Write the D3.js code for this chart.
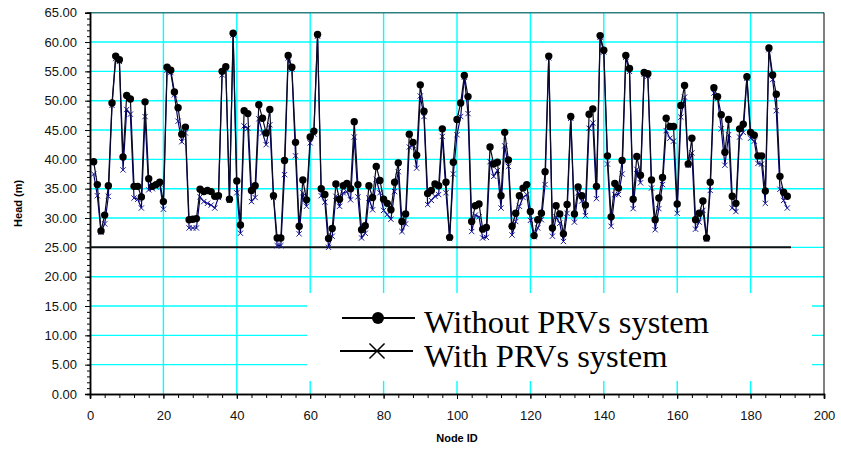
<!DOCTYPE html>
<html>
    <head>
        <meta charset="utf-8">
        <title>Head per node</title>
        <script type="text/javascript" src="https://cdn.jsdelivr.net/npm/d3@7/dist/d3.min.js"></script>
		<style>
		body {margin: 0; background: #fff;}
		svg {display: block;}
		.tick text {font-family: "Liberation Sans", Arial, sans-serif; font-size: 13px; fill: #111;}
		</style>
    </head>
    <body>
		<svg width="841" height="452"></svg>

        <script type="text/javascript">
		/// donnees (noeuds 1 a 190)
		var nodes = d3.range(1, 191);
		var sansPRV = [
			39.6, 35.7, 27.8, 30.5, 35.5, 49.6, 57.6, 57.0, 40.4, 50.9,
			50.3, 35.4, 35.4, 33.6, 49.8, 36.7, 35.4, 35.7, 36.1, 32.8,
			55.7, 55.2, 51.5, 48.8, 44.3, 45.5, 29.7, 29.8, 29.9, 34.9,
			34.5, 34.7, 34.5, 33.7, 33.8, 55.0, 55.8, 33.2, 61.5, 36.3,
			28.8, 48.3, 47.8, 34.7, 35.5, 49.3, 47.0, 44.5, 48.5, 33.8,
			26.6, 26.6, 39.8, 57.7, 55.7, 42.9, 28.6, 36.5, 33.1, 43.8,
			44.8, 61.3, 35.0, 34.0, 26.5, 28.2, 35.8, 33.2, 35.5, 35.9,
			35.0, 46.4, 35.7, 28.0, 28.7, 35.5, 33.5, 38.8, 36.4, 33.2,
			32.5, 31.4, 36.1, 39.4, 29.4, 30.7, 44.3, 42.9, 40.7, 52.7,
			48.2, 34.2, 34.7, 35.8, 35.5, 45.2, 36.1, 26.7, 39.5, 46.8,
			49.6, 54.3, 50.7, 29.4, 32.1, 32.4, 28.1, 28.4, 42.1, 39.2,
			39.5, 33.8, 44.6, 39.9, 28.6, 30.8, 33.8, 35.1, 35.7, 31.1,
			27.0, 29.7, 30.8, 37.9, 57.6, 28.3, 32.1, 30.7, 27.3, 32.3,
			47.3, 30.7, 35.3, 33.8, 32.2, 47.7, 48.6, 35.4, 61.1, 58.6,
			40.6, 30.2, 35.9, 35.1, 39.8, 57.7, 55.5, 33.2, 40.5, 37.3,
			54.8, 54.6, 36.5, 29.7, 33.4, 36.9, 47.0, 45.6, 45.6, 32.4,
			49.2, 52.6, 39.2, 43.6, 29.7, 30.8, 32.9, 26.6, 36.1, 52.2,
			50.7, 47.6, 41.2, 46.8, 33.7, 32.5, 45.2, 46.0, 54.1, 44.6,
			44.1, 40.6, 40.6, 34.6, 59.0, 54.4, 51.1, 37.1, 34.4, 33.7
		];
		var avecPRV = [
			37.5, 33.8, 27.6, 29.0, 33.7, 49.2, 57.2, 56.7, 38.2, 48.5,
			47.7, 33.4, 33.2, 31.7, 47.3, 34.8, 35.0, 35.3, 35.8, 31.5,
			55.2, 54.8, 51.0, 46.5, 43.0, 44.5, 28.3, 28.3, 28.3, 33.6,
			32.8, 32.5, 32.2, 31.7, 33.5, 54.4, 55.5, 33.0, 61.2, 34.3,
			27.4, 45.7, 45.3, 32.8, 33.5, 46.9, 44.5, 42.5, 45.9, 33.5,
			25.3, 25.3, 37.4, 57.3, 55.4, 40.6, 27.3, 34.3, 32.0, 42.8,
			44.3, 61.0, 33.8, 32.7, 25.0, 26.9, 33.7, 32.0, 34.3, 34.5,
			33.1, 43.8, 33.6, 26.6, 27.4, 33.4, 31.4, 36.6, 34.3, 31.3,
			30.6, 29.8, 34.5, 37.9, 27.7, 29.0, 42.1, 42.4, 38.5, 50.8,
			47.3, 32.3, 33.0, 33.7, 34.0, 43.9, 34.3, 26.5, 37.5, 44.2,
			47.3, 54.0, 47.8, 27.7, 30.5, 30.2, 26.6, 26.7, 39.6, 37.1,
			38.1, 31.7, 42.3, 38.8, 27.1, 29.4, 32.0, 33.5, 34.0, 29.6,
			26.8, 28.3, 29.7, 35.7, 57.3, 26.9, 30.2, 29.1, 26.0, 30.8,
			47.0, 29.3, 34.3, 32.9, 30.4, 45.3, 46.2, 33.3, 60.8, 58.3,
			39.2, 28.6, 34.0, 34.0, 37.5, 57.4, 55.0, 31.6, 38.3, 36.0,
			54.5, 54.2, 35.1, 28.0, 31.6, 35.7, 44.9, 43.6, 43.1, 30.8,
			47.2, 50.6, 39.0, 41.1, 28.1, 29.3, 31.3, 26.4, 34.7, 51.3,
			50.4, 45.2, 39.0, 44.2, 31.7, 31.1, 43.8, 44.6, 53.8, 43.6,
			43.1, 39.3, 39.2, 32.5, 58.7, 53.6, 48.3, 34.9, 33.0, 31.7
		];
		/// ligne de pression minimale
		var minX = [0, 191];
		var minY = [25, 25];

		var xTicks = [0, 20, 40, 60, 80, 100, 120, 140, 160, 180, 200];
		var yTicks = [0, 5, 10, 15, 20, 25, 30, 35, 40, 45, 50, 55, 60, 65];
		var legendLabels = ["Without PRVs system", "With PRVs system"];

		var svg = d3.select("svg");
		var x = d3.scaleLinear().domain([0, 200]).range([90, 824]);
		var y = d3.scaleLinear().domain([0, 65]).range([394, 12.7]);

		/// grille
		var grid = svg.append("g");
		grid.selectAll(".gx")
			.data(xTicks.slice(1, -1))
			.enter()
			.append("line")
				.attr("x1", function(d) { return x(d) })
				.attr("x2", function(d) { return x(d) })
				.attr("y1", y(0))
				.attr("y2", y(65))
				.attr("stroke", "#00ffff")
				.attr("stroke-width", 1.4)
		grid.selectAll(".gy")
			.data(yTicks.slice(1, -1))
			.enter()
			.append("line")
				.attr("x1", x(0))
				.attr("x2", x(200))
				.attr("y1", function(d) { return y(d) })
				.attr("y2", function(d) { return y(d) })
				.attr("stroke", "#00ffff")
				.attr("stroke-width", 1.4)

		/// cadre
		svg.append("line")
			.attr("x1", x(0)).attr("x2", x(200))
			.attr("y1", y(65)).attr("y2", y(65))
			.attr("stroke", "#2e8080").attr("stroke-width", 1.5)
		svg.append("line")
			.attr("x1", x(200)).attr("x2", x(200))
			.attr("y1", y(0)).attr("y2", y(65))
			.attr("stroke", "#000").attr("stroke-width", 1)

		/// axes
		svg.append("g")
			.attr("transform", "translate(0," + y(0) + ")")
			.call(d3.axisBottom(x).tickValues(d3.range(0, 201, 4)).tickSize(4).tickFormat(""))
		svg.append("g")
			.attr("transform", "translate(0," + y(0) + ")")
			.call(d3.axisBottom(x).tickValues(xTicks).tickSize(5).tickPadding(12).tickFormat(d3.format("d")))
		svg.append("g")
			.attr("transform", "translate(" + x(0) + ",0)")
			.call(d3.axisLeft(y).tickValues(d3.range(0, 66, 1)).tickSize(3).tickFormat(""))
		svg.append("g")
			.attr("transform", "translate(" + x(0) + ",0)")
			.call(d3.axisLeft(y).tickValues(yTicks).tickSize(5).tickPadding(8).tickFormat(d3.format(".2f")))
		svg.selectAll(".domain").attr("stroke-width", 1.5)

		svg.append("text")
			.attr("transform", "translate(22," + y(32.5) + ") rotate(-90)")
			.attr("text-anchor", "middle")
			.style("font-family", "Liberation Sans, Arial, sans-serif")
			.style("font-size", "11px")
			.style("font-weight", "bold")
			.text("Head (m)")
		svg.append("text")
			.attr("x", x(100))
			.attr("y", 442)
			.attr("text-anchor", "middle")
			.style("font-family", "Liberation Sans, Arial, sans-serif")
			.style("font-size", "11px")
			.style("font-weight", "bold")
			.text("Node ID")

		/// ligne 25 m
		svg.append("path")
			.datum(d3.zip(minX, minY))
			.attr("d", d3.line()
				.x(function(d) { return x(d[0]) })
				.y(function(d) { return y(d[1]) }))
			.attr("fill", "none")
			.attr("stroke", "#111")
			.attr("stroke-width", 2)

		/// avec PRV
		var g = svg.append("g")
		g.append("path")
			.datum(avecPRV)
			.attr("d", d3.line()
				.x(function(d, i) { return x(nodes[i]) })
				.y(function(d) { return y(d) }))
			.attr("fill", "none")
			.attr("stroke", "#000070")
			.attr("stroke-width", 1.2)
		g.selectAll("path.cross")
			.data(avecPRV)
			.enter()
			.append("path")
				.attr("class", "cross")
				.attr("d", d3.symbol().type(d3.symbolX).size(20))
				.attr("transform", function(d, i) { return "translate(" + x(nodes[i]) + "," + y(d) + ")" })
				.attr("fill", "none")
				.attr("stroke", "#1a1a9a")
				.attr("stroke-width", 1)

		/// sans PRV
		var g = svg.append("g")
		g.append("path")
			.datum(sansPRV)
			.attr("d", d3.line()
				.x(function(d, i) { return x(nodes[i]) })
				.y(function(d) { return y(d) }))
			.attr("fill", "none")
			.attr("stroke", "#0a0a20")
			.attr("stroke-width", 1.2)
		g.selectAll("circle")
			.data(sansPRV)
			.enter()
			.append("circle")
				.attr("r", 3.7)
				.attr("cx", function(d, i) { return x(nodes[i]) })
				.attr("cy", function(d) { return y(d) })
				.attr("fill", "#000")

		/// legende
		var leg = svg.append("g")
		leg.append("rect")
			.attr("x", 307).attr("y", 293)
			.attr("width", 505).attr("height", 88)
			.attr("fill", "#fff")
		leg.append("line")
			.attr("x1", 342).attr("x2", 415).attr("y1", 318).attr("y2", 318)
			.attr("stroke", "#000").attr("stroke-width", 2)
		leg.append("circle")
			.attr("cx", 378).attr("cy", 318).attr("r", 6)
			.attr("fill", "#000")
		leg.append("line")
			.attr("x1", 340).attr("x2", 413).attr("y1", 351).attr("y2", 351)
			.attr("stroke", "#000").attr("stroke-width", 2)
		leg.append("path")
			.attr("d", d3.symbol().type(d3.symbolX).size(150))
			.attr("transform", "translate(377,351)")
			.attr("fill", "none").attr("stroke", "#000").attr("stroke-width", 1.5)
		leg.selectAll("text")
			.data(legendLabels)
			.enter()
			.append("text")
				.attr("x", 424)
				.attr("y", function(d, i) { return 333 + i * 33.5 })
				.style("font-family", "Liberation Serif, Times New Roman, serif")
				.style("font-size", "32.5px")
				.text(function(d) { return d })
        </script>
    </body>
</html>
